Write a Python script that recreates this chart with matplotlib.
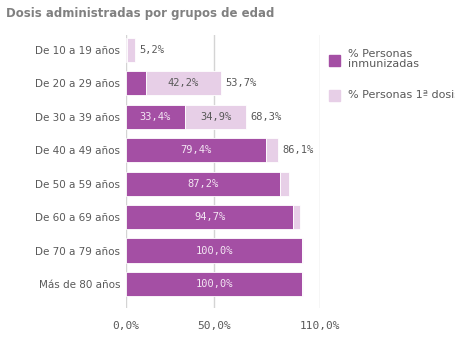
import numpy as np
import matplotlib.pyplot as plt

groups = ["De 10 a 19 años", "De 20 a 29 años", "De 30 a 39 años", "De 40 a 49 años",
          "De 50 a 59 años", "De 60 a 69 años", "De 70 a 79 años", "Más de 80 años"]
inmunizadas = [0.8, 11.5, 33.4, 79.4, 87.2, 94.7, 100.0, 100.0]
primera_dosis = [4.4, 42.2, 34.9, 6.7, 5.2, 3.9, 0.4, 0.4]
x_ticks = [0, 50, 110]

dark = "#a44fa4"
light = "#e7cfe7"
grey_txt = "#595959"


def pct(v):
    return f"{v:.1f}%".replace(".", ",")


fig = plt.figure(figsize=(4.56, 3.4), dpi=100)
ax = fig.add_axes([126 / 456, 32 / 340, 194 / 456, 273 / 340])

y = np.arange(len(groups))
ax.barh(y, inmunizadas, height=0.72, color=dark, edgecolor="white", linewidth=0.6, zorder=3)
ax.barh(y, primera_dosis, left=inmunizadas, height=0.72, color=light,
        edgecolor="white", linewidth=0.6, zorder=3)

num_font = "DejaVu Sans Mono"
for i in range(len(groups)):
    d = inmunizadas[i]
    l = primera_dosis[i]
    tot = d + l
    if d >= 20:
        ax.text(d / 2, i, pct(d), ha="center", va="center", color="#f3e6f3",
                fontsize=7.5, family=num_font, zorder=4)
    if l >= 20:
        ax.text(d + l / 2, i, pct(l), ha="center", va="center", color=grey_txt,
                fontsize=7.5, family=num_font, zorder=4)
    if tot < 90:
        ax.text(tot + 2.5, i, pct(tot), ha="left", va="center", color=grey_txt,
                fontsize=7.5, family=num_font, zorder=4)

ax.set_xlim(0, 110)
ax.set_ylim(7.72, -0.45)
ax.set_yticks(y)
ax.set_yticklabels(groups, fontsize=7.5, color=grey_txt)
ax.set_xticks(x_ticks)
ax.set_xticklabels([pct(v) for v in x_ticks], fontsize=8, color=grey_txt, family=num_font)
ax.tick_params(axis="y", length=0, pad=4)
ax.tick_params(axis="x", length=0, pad=9)
for s in ax.spines.values():
    s.set_visible(False)
ax.grid(axis="x", color="#d4d4d4", linewidth=1, zorder=0)

# title
fig.text(6 / 456, 1 - 14 / 340, "Dosis administradas por grupos de edad", fontsize=8.5,
         fontweight="bold", color="#808080", ha="left", va="center")

# legend
fig.patches.append(plt.Rectangle((329 / 456, 1 - 66 / 340), 11 / 456, 11 / 340,
                                 transform=fig.transFigure, color=dark))
fig.text(348 / 456, 1 - 59 / 340, "% Personas\ninmunizadas", fontsize=8, color=grey_txt,
         ha="left", va="center", linespacing=1.1)
fig.patches.append(plt.Rectangle((329 / 456, 1 - 101 / 340), 11 / 456, 11 / 340,
                                 transform=fig.transFigure, color=light))
fig.text(348 / 456, 1 - 95 / 340, "% Personas 1ª dosis", fontsize=8, color=grey_txt,
         ha="left", va="center")

fig.savefig("out.png", dpi=100)
